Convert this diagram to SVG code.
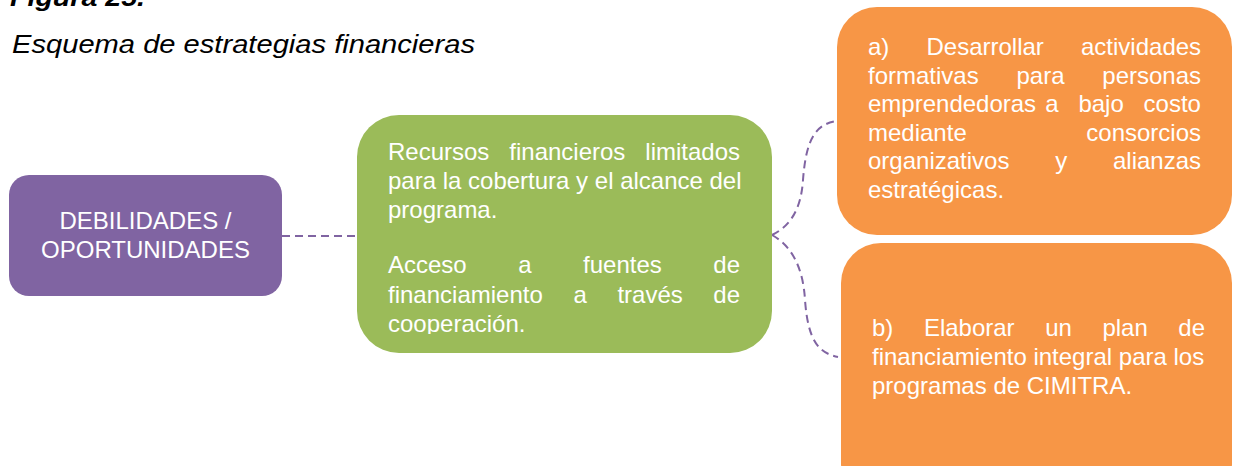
<svg xmlns="http://www.w3.org/2000/svg" width="1233" height="466" viewBox="0 0 1233 466">
<style>
.t{font-family:"Liberation Sans",Arial,sans-serif;font-size:24px;fill:#FFFFFF}
.c{stroke:#8064A2;stroke-width:2;fill:none;stroke-dasharray:8 5}
</style>
<defs>
<clipPath id="gclip"><rect x="357" y="115" width="415" height="219"/></clipPath>
</defs>
<rect width="1233" height="466" fill="#FFFFFF"/>
<g id="caption">
<text x="10" y="6" font-family="Liberation Sans, Arial, sans-serif" font-size="26.5" font-weight="bold" font-style="italic" fill="#000" textLength="135" lengthAdjust="spacingAndGlyphs">Figura 25.</text>
<text x="12" y="53" font-family="Liberation Sans, Arial, sans-serif" font-size="26.5" font-style="italic" fill="#000" textLength="463" lengthAdjust="spacingAndGlyphs">Esquema de estrategias financieras</text>
</g>
<g id="connectors">
<path class="c" d="M282,236 L357,236"/>
<path class="c" d="M772,235 C790,226 801,210 803,180 C806,140 815,124 837,121"/>
<path class="c" d="M772,235 C790,245 803,265 805,300 C808,340 818,353 838,357"/>
</g>
<g id="debilidades">
<rect x="9" y="175" width="273" height="121" rx="20" fill="#8064A2"/>
<text class="t" x="145.5" y="229" text-anchor="middle">DEBILIDADES /</text>
<text class="t" x="145.5" y="258" text-anchor="middle">OPORTUNIDADES</text>
</g>
<g id="recursos">
<rect x="357" y="115" width="415" height="238" rx="42" fill="#9BBB59"/>
<g clip-path="url(#gclip)">
<text class="t" y="160"><tspan x="388">Recursos</tspan><tspan x="509.3">financieros</tspan><tspan x="645.3">limitados</tspan></text>
<text class="t" x="388" y="189.3">para la cobertura y el alcance del</text>
<text class="t" x="388" y="218.3">programa.</text>
<text class="t" y="273.3"><tspan x="388">Acceso</tspan><tspan x="518.2">a</tspan><tspan x="583.1">fuentes</tspan><tspan x="713.3">de</tspan></text>
<text class="t" y="302.6"><tspan x="388">financiamiento</tspan><tspan x="573.4">a</tspan><tspan x="617.4">través</tspan><tspan x="713.3">de</tspan></text>
<text class="t" x="388" y="332">cooperación.</text>
</g>
</g>
<g id="estrategia-a">
<rect x="837" y="7" width="395" height="228" rx="40" fill="#F79646"/>
<text class="t" y="55"><tspan x="868">a)</tspan><tspan x="926.5">Desarrollar</tspan><tspan x="1081">actividades</tspan></text>
<text class="t" y="83.5"><tspan x="868">formativas</tspan><tspan x="1016.5">para</tspan><tspan x="1102.3">personas</tspan></text>
<text class="t" y="112"><tspan x="868">emprendedoras</tspan><tspan x="1045.2">a</tspan><tspan x="1078.4">bajo</tspan><tspan x="1143.6">costo</tspan></text>
<text class="t" y="140.5"><tspan x="868">mediante</tspan><tspan x="1086.3">consorcios</tspan></text>
<text class="t" y="169"><tspan x="868">organizativos</tspan><tspan x="1055.2">y</tspan><tspan x="1113">alianzas</tspan></text>
<text class="t" x="868" y="197.5">estratégicas.</text>
</g>
<g id="estrategia-b">
<rect x="841" y="243" width="391" height="260" rx="40" fill="#F79646"/>
<text class="t" y="336"><tspan x="872">b)</tspan><tspan x="923.9">Elaborar</tspan><tspan x="1045.2">un</tspan><tspan x="1102.4">plan</tspan><tspan x="1178.3">de</tspan></text>
<text class="t" x="872" y="365">financiamiento integral para los</text>
<text class="t" x="872" y="394">programas de CIMITRA.</text>
</g>
</svg>
